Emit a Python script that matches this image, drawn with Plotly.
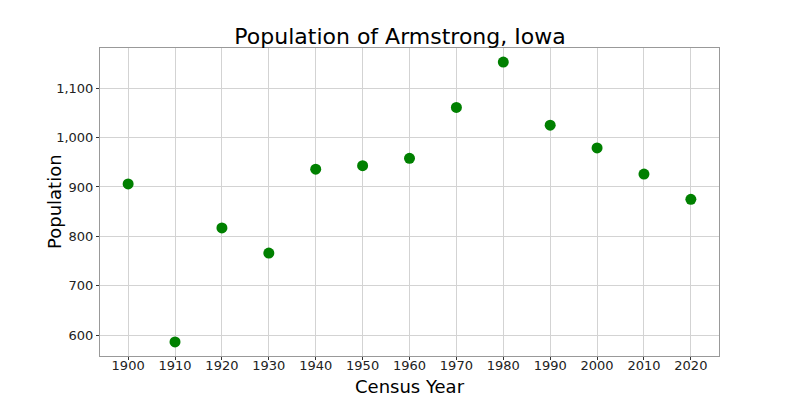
import plotly.graph_objects as go

years = [1900, 1910, 1920, 1930, 1940, 1950, 1960, 1970, 1980, 1990, 2000, 2010, 2020]
population = [906, 586, 817, 766, 936, 943, 958, 1061, 1153, 1025, 979, 926, 875]
x_ticks = [1900, 1910, 1920, 1930, 1940, 1950, 1960, 1970, 1980, 1990, 2000, 2010, 2020]
y_ticks = [600, 700, 800, 900, 1000, 1100]

fig = go.Figure(go.Scatter(
    x=years, y=population, mode="markers",
    marker=dict(color="green", size=11),
))

axis_common = dict(
    showline=True, linecolor="#999999", linewidth=1, mirror=True,
    showgrid=True, gridcolor="#d3d3d3", gridwidth=1,
    ticks="outside", ticklen=3, tickcolor="#333333",
    tickfont=dict(family="DejaVu Sans", size=13, color="#222222"),
    zeroline=False, automargin=False,
)

title_font = dict(family="DejaVu Sans", size=18, color="black")

fig.update_layout(
    width=800, height=400,
    margin=dict(l=100, r=81, t=48, b=44),
    paper_bgcolor="white", plot_bgcolor="white",
    title=dict(text="Population of Armstrong, Iowa", x=0.5, xanchor="center",
               y=0.91, yanchor="middle",
               font=dict(family="DejaVu Sans", size=22, color="black")),
    xaxis=dict(range=[1894, 2026], tickvals=x_ticks, ticklabelstandoff=-6, **axis_common),
    yaxis=dict(range=[557.6, 1181.4], tickvals=y_ticks, tickformat=",", **axis_common),
    showlegend=False,
    annotations=[
        dict(text="Census Year", xref="paper", yref="paper", x=0.5, y=0, yshift=-18,
             xanchor="center", yanchor="top", showarrow=False, font=title_font),
        dict(text="Population", xref="paper", yref="paper", x=0, y=0.5, xshift=-46,
             xanchor="center", yanchor="middle", textangle=-90, showarrow=False, font=title_font),
    ],
)

fig.write_html("out.html")
